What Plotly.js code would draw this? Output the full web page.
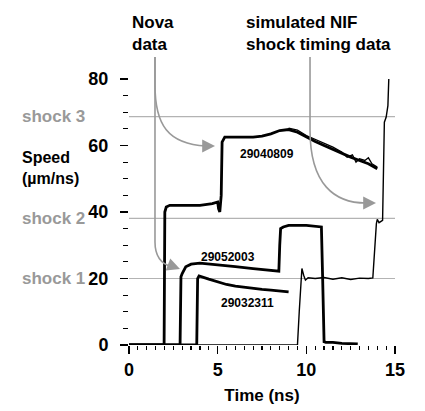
<!DOCTYPE html>
<html><head><meta charset="utf-8">
<script src="https://cdn.plot.ly/plotly-3.0.1.min.js"></script>
<style>html,body{margin:0;padding:0;background:#fff}#chart{width:425px;height:411px}</style>
</head><body><div id="chart"></div>
<script>
// Nova shot 29040809
const shotA_t = [0, 1.98, 2.02, 2.1, 2.3, 3, 4, 4.7, 5.0, 5.05, 5.12, 5.2, 5.25, 5.4, 6, 7, 7.5, 8, 8.5, 9, 9.5, 10, 10.5, 11, 11.5, 12, 12.5, 13, 13.5, 14.0];
const shotA_v = [0, 0, 40, 41.5, 42, 42, 42, 42.5, 43, 41, 40, 45, 61, 62.5, 62.5, 62.5, 62.8, 63.5, 64.5, 64.8, 64, 62.5, 61.2, 60, 58.8, 57.5, 56.5, 55.5, 54.5, 53];
const shotA2_t = [9.0, 9.5, 10, 10.5, 11, 11.5, 12, 12.3, 12.6, 12.8, 13, 13.3, 13.5, 13.7, 14.0];
const shotA2_v = [65.2, 64.6, 63, 61.8, 60.5, 59.5, 58, 56.5, 57.2, 55, 56, 55.5, 56.3, 54.5, 53.5];
// Nova shot 29052003
const shotB_t = [0, 2.88, 2.93, 3.0, 3.2, 3.5, 4, 5, 6, 7, 8, 8.45, 8.5, 8.55, 8.7, 9, 10, 10.5, 10.85, 10.92, 11.0, 11.1, 11.5, 12, 12.5, 12.9];
const shotB_v = [0, 0, 20.5, 21.5, 23.5, 24.3, 24.6, 24.2, 23.6, 23, 22.5, 22.2, 30, 35, 35.5, 36, 36, 35.6, 35.5, 20, 1, 0.8, 0.8, 0.5, 0.5, 0.3];
// Nova shot 29032311
const shotC_t = [0, 3.82, 3.87, 3.95, 4.5, 5, 5.5, 6, 6.5, 7, 7.5, 8, 8.5, 9.0];
const shotC_v = [0, 0, 20, 20.8, 19.8, 18.9, 18.2, 17.7, 17.3, 17.0, 16.7, 16.5, 16.2, 16.0];
// simulated NIF shock timing
const nif_t = [0, 9.5, 9.6, 9.75, 9.85, 9.95, 10.1, 10.5, 11, 11.5, 12, 12.5, 13, 13.5, 13.75, 13.85, 13.95, 14.0, 14.1, 14.3, 14.35, 14.4, 14.5, 14.6, 14.65];
const nif_v = [0, 0, 10, 23, 21, 19.5, 20.2, 20, 20.3, 19.8, 20.2, 19.7, 20.1, 20, 20.2, 30, 36.5, 37.8, 36.8, 37.5, 50, 67, 68.5, 72, 80];
// shock levels
const shockNames = ['shock 1', 'shock 2', 'shock 3'];
const shockLevels = [20, 38.1, 68.7];
// tick labels
const xTicks = [0, 5, 10, 15];
const yTicks = [0, 20, 40, 60, 80];
const xRange = [0, 15];
const yRange = [0, 80];

const FONT = '"Liberation Sans", Arial, sans-serif';
const L = 129, R = 395, T = 79, B = 345;
const W = R - L, H = B - T;
const px = x => (x - L) / W;
const py = y => (B - y) / H;
function path(cmds) {
  return cmds.map(c => c[0] + ' ' + c.slice(1).reduce((a, v, i) => {
    if (i % 2 === 0) a.push(px(v).toFixed(4)); else a[a.length - 1] += ',' + py(v).toFixed(4);
    return a;
  }, []).join(' ')).join(' ');
}

// mirrored tick marks on top and right edges, placed from the axis ranges
const topMinor = [], topMajor = [];
for (let k = 0; k <= (xRange[1] - xRange[0]) / 0.5; k++) {
  const t = xRange[0] + k * 0.5;
  (xTicks.includes(t) ? topMajor : topMinor).push(t);
}
const rightMinor = [], rightMajor = [];
for (let k = 0; k <= (yRange[1] - yRange[0]) / 5; k++) {
  const v = yRange[0] + k * 5;
  (yTicks.includes(v) ? rightMajor : rightMinor).push(v);
}
const uY = (yRange[1] - yRange[0]) / H;   // data units per pixel (y)
const uX = (xRange[1] - xRange[0]) / W;   // data units per pixel (x)
const tickTrace = (xs, ys, sym, size, w) => ({x: xs, y: ys, mode: 'markers', cliponaxis: false, hoverinfo: 'skip',
  marker: {symbol: sym, size: size, color: '#000', line: {color: '#000', width: w}}});

const thick = {color: '#000', width: 2.8};
const traces = [
  {x: shotA_t, y: shotA_v, mode: 'lines', line: thick},
  {x: shotA2_t, y: shotA2_v, mode: 'lines', line: {color: '#000', width: 1.3}},
  {x: shotB_t, y: shotB_v, mode: 'lines', line: thick},
  {x: shotC_t, y: shotC_v, mode: 'lines', line: thick},
  {x: nif_t, y: nif_v, mode: 'lines', line: {color: '#000', width: 1.4}},
  tickTrace(topMinor, topMinor.map(() => yRange[1] + 2 * uY), 'line-ns', 4, 1.2),
  tickTrace(topMajor, topMajor.map(() => yRange[1] + 4 * uY), 'line-ns', 8, 1.3),
  tickTrace(rightMinor.map(() => xRange[1] + 2.5 * uX), rightMinor, 'line-ew', 5, 1.2),
  tickTrace(rightMajor.map(() => xRange[1] + 4 * uX), rightMajor, 'line-ew', 8, 1.3)
];

const gray = '#999';
const shapes = shockLevels.map(v => ({type: 'line', xref: 'paper', x0: 0, x1: 1, yref: 'y', y0: v, y1: v,
  line: {color: '#b3b3b3', width: 1.2}, layer: 'below'}));
shapes.push(
  {type: 'path', xref: 'paper', yref: 'paper', line: {color: gray, width: 1.6},
   path: path([['M', 155, 57], ['L', 155, 85], ['C', 155, 125, 168, 144, 206, 146]])},
  {type: 'path', xref: 'paper', yref: 'paper', line: {color: gray, width: 1.6},
   path: path([['M', 155, 57], ['L', 155, 242], ['C', 155, 256, 161, 264, 172, 267]])},
  {type: 'path', xref: 'paper', yref: 'paper', line: {color: gray, width: 1.6},
   path: path([['M', 310, 57], ['L', 310, 130], ['C', 310, 185, 335, 203, 366, 203]])}
);

const annotations = [];
function arrowHead(xp, yp, ax, ay) {
  annotations.push({xref: 'paper', yref: 'paper', x: px(xp), y: py(yp), ax: ax, ay: ay, text: '',
    showarrow: true, arrowhead: 2, arrowsize: 1.6, arrowwidth: 1.6, arrowcolor: gray, standoff: 0});
}
arrowHead(215, 146, -10, 0);
arrowHead(180, 269, -8, -3);
arrowHead(376, 203, -10, 0);

shockLevels.forEach((v, i) => annotations.push({xref: 'paper', yref: 'y', x: px(20), y: v, xanchor: 'left', yanchor: 'middle',
  text: shockNames[i], showarrow: false, font: {family: FONT, size: 17, color: '#999', weight: 'bold'}}));
annotations.push({xref: 'paper', yref: 'paper', x: px(20), y: py(168), xanchor: 'left', yanchor: 'middle', align: 'left',
  text: 'Speed<br>(µm/ns)', showarrow: false, font: {family: FONT, size: 16, color: '#000', weight: 'bold'}});
annotations.push({xref: 'paper', yref: 'paper', x: px(130), y: py(34), xanchor: 'left', yanchor: 'middle', align: 'left',
  text: 'Nova<br>data', showarrow: false, font: {family: FONT, size: 17, color: '#000', weight: 'bold'}});
annotations.push({xref: 'paper', yref: 'paper', x: px(244), y: py(34), xanchor: 'left', yanchor: 'middle', align: 'left',
  text: 'simulated NIF<br>shock timing data', showarrow: false, font: {family: FONT, size: 17, color: '#000', weight: 'bold'}});
const lab = (t, x, y) => annotations.push({xref: 'paper', yref: 'paper', x: px(x), y: py(y), text: t, showarrow: false,
  xanchor: 'center', yanchor: 'middle', font: {family: FONT, size: 12, color: '#000', weight: 'bold'}});
lab('29040809', 267, 154);
lab('29052003', 228, 257);
lab('29032311', 247, 303);

const layout = {
  width: 425, height: 411,
  margin: {l: L, r: 425 - R, t: T, b: 411 - B, pad: 0},
  paper_bgcolor: '#fff', plot_bgcolor: '#fff',
  showlegend: false,
  font: {family: FONT, color: '#000'},
  xaxis: {range: xRange, tickvals: xTicks, ticktext: xTicks.map(String), ticks: 'outside', ticklen: 8, tickwidth: 1.3,
    tickcolor: '#000', showgrid: false, zeroline: false, showline: false,
    minor: {dtick: 0.5, tick0: 0, ticks: 'outside', ticklen: 4, tickwidth: 1.2, tickcolor: '#000', showgrid: false},
    tickfont: {family: FONT, size: 18, weight: 'bold'},
    title: {text: 'Time (ns)', font: {family: FONT, size: 17, weight: 'bold'}, standoff: 10}},
  yaxis: {range: yRange, tickvals: yTicks, ticktext: yTicks.map(String), ticks: 'outside', ticklen: 8, tickwidth: 1.3,
    tickcolor: '#000', showgrid: false, zeroline: false, showline: false, ticklabelstandoff: 8,
    minor: {dtick: 5, tick0: 0, ticks: 'outside', ticklen: 5, tickwidth: 1.2, tickcolor: '#000', showgrid: false},
    tickfont: {family: FONT, size: 18, weight: 'bold'}},
  shapes: shapes,
  annotations: annotations
};
Plotly.newPlot('chart', traces, layout, {staticPlot: true, displayModeBar: false});
</script></body></html>
